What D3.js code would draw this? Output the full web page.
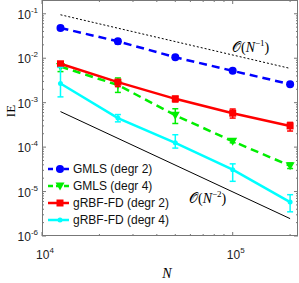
<!DOCTYPE html>
<html>
<head>
<meta charset="utf-8">
<script src="https://cdn.jsdelivr.net/npm/d3@7"></script>
<style>
  body { margin: 0; background: white; }
  text { font-family: "Liberation Sans", Arial, sans-serif; }
</style>
</head>
<body>
<div id="chart"></div>
<script>
const margin = { top: 0, bot: 47, left: 42, right: 1 }
const sizing = { width: 299, height: 283 }

// data
const N = [12500, 25000, 50000, 100000, 200000]
const gmls2 = [0.048, 0.024, 0.0105, 0.0052, 0.0026]
const gmls2Lo = [0.044, 0.021, 0.0098, 0.0048, 0.0024]
const gmls2Hi = [0.052, 0.027, 0.0112, 0.0056, 0.0028]
const gmls4 = [0.0065, 0.0025, 0.00052, 0.000135, 0.000038]
const gmls4Lo = [0.005, 0.0017, 0.00034, 0.000125, 0.000033]
const gmls4Hi = [0.0078, 0.0036, 0.00073, 0.000148, 0.000044]
const rbf2 = [0.0075, 0.0029, 0.00122, 0.00058, 0.0003]
const rbf2Lo = [0.0065, 0.0023, 0.00104, 0.00045, 0.00023]
const rbf2Hi = [0.0083, 0.0033, 0.00139, 0.00072, 0.00036]
const rbf4 = [0.0027, 0.00045, 0.000125, 0.000031, 0.0000058]
const rbf4Lo = [0.00135, 0.00037, 0.000095, 0.000017, 0.0000035]
const rbf4Hi = [0.0062, 0.00054, 0.00019, 0.000042, 0.0000085]
const refN = [12500, 200000]
const ref1 = [0.095, 0.0059]
const ref2 = [0.00063, 0.00000246]
const yTickExp = [-1, -2, -3, -4, -5, -6]
const xTickExp = [4, 5]
const seriesNames = ["GMLS (degr 2)", "GMLS (degr 4)", "gRBF-FD (degr 2)", "gRBF-FD (degr 4)"]

const series = [
  { name: seriesNames[0], v: gmls2, lo: gmls2Lo, hi: gmls2Hi, color: "#0000ff", dash: "8,5", marker: "circle" },
  { name: seriesNames[1], v: gmls4, lo: gmls4Lo, hi: gmls4Hi, color: "#00ee00", dash: "8,5", marker: "tri" },
  { name: seriesNames[2], v: rbf2, lo: rbf2Lo, hi: rbf2Hi, color: "#ff0000", dash: null, marker: "square" },
  { name: seriesNames[3], v: rbf4, lo: rbf4Lo, hi: rbf4Hi, color: "#00ffff", dash: null, marker: "dot" }
]

const svg = d3.select("#chart").append("svg")
  .attr("width", sizing.width)
  .attr("height", sizing.height)

svg.append("rect").attr("width", "100%").attr("height", "100%").attr("fill", "white")

const w = sizing.width - margin.left - margin.right
const h = sizing.height - margin.top - margin.bot

const x = d3.scaleLog().domain([1e4, 2.2e5]).range([margin.left, margin.left + w])
const y = d3.scaleLog().domain([1e-6, Math.pow(10, -0.69)]).range([margin.top + h, margin.top])

const axisColor = "#777"

// ticks (inward, all sides)
const ticks = svg.append("g")
const xMinor = []
for (let e = 4; e <= 5; e++) for (let m = 2; m <= 9; m++) { const v = m * Math.pow(10, e); if (v <= 2.2e5) xMinor.push(v) }
const yMinor = []
for (let e = -6; e <= -1; e++) for (let m = 2; m <= 9; m++) { const v = m * Math.pow(10, e); if (v <= Math.pow(10, -0.69)) yMinor.push(v) }

xMinor.forEach(v => {
  ticks.append("line").attr("x1", x(v)).attr("x2", x(v)).attr("y1", y.range()[0]).attr("y2", y.range()[0] - 2).attr("stroke", axisColor)
  ticks.append("line").attr("x1", x(v)).attr("x2", x(v)).attr("y1", y.range()[1]).attr("y2", y.range()[1] + 2).attr("stroke", axisColor)
})
xTickExp.forEach(e => {
  const v = Math.pow(10, e)
  ticks.append("line").attr("x1", x(v)).attr("x2", x(v)).attr("y1", y.range()[0]).attr("y2", y.range()[0] - 4).attr("stroke", axisColor)
  ticks.append("line").attr("x1", x(v)).attr("x2", x(v)).attr("y1", y.range()[1]).attr("y2", y.range()[1] + 4).attr("stroke", axisColor)
})
yMinor.forEach(v => {
  ticks.append("line").attr("y1", y(v)).attr("y2", y(v)).attr("x1", x.range()[0]).attr("x2", x.range()[0] + 2).attr("stroke", axisColor)
  ticks.append("line").attr("y1", y(v)).attr("y2", y(v)).attr("x1", x.range()[1]).attr("x2", x.range()[1] - 2).attr("stroke", axisColor)
})
yTickExp.forEach(e => {
  const v = Math.pow(10, e)
  ticks.append("line").attr("y1", y(v)).attr("y2", y(v)).attr("x1", x.range()[0]).attr("x2", x.range()[0] + 4).attr("stroke", axisColor)
  ticks.append("line").attr("y1", y(v)).attr("y2", y(v)).attr("x1", x.range()[1]).attr("x2", x.range()[1] - 4).attr("stroke", axisColor)
})

svg.append("rect")
  .attr("x", x.range()[0] + 0.5).attr("y", y.range()[1] + 0.5)
  .attr("width", w - 1).attr("height", h - 1)
  .attr("fill", "none").attr("stroke", axisColor)

// tick labels
yTickExp.forEach(e => {
  const t = svg.append("text").attr("x", 38).attr("y", y(Math.pow(10, e)) + 5)
    .attr("text-anchor", "end").attr("font-size", 12).attr("fill", "#222")
  t.append("tspan").text("10")
  t.append("tspan").text(e).attr("font-size", 8).attr("dy", -6)
})
xTickExp.forEach(e => {
  const t = svg.append("text").attr("x", x(Math.pow(10, e)) + 3).attr("y", 259)
    .attr("text-anchor", "middle").attr("font-size", 12).attr("fill", "#222")
  t.append("tspan").text("10")
  t.append("tspan").text(e).attr("font-size", 8).attr("dy", -6)
})

svg.append("text").text("IE")
  .attr("transform", "translate(15,111) rotate(-90)")
  .attr("text-anchor", "middle").attr("font-size", 13)
  .style("font-family", "'Liberation Serif', 'Times New Roman', serif")

svg.append("text").text("N")
  .attr("x", 167).attr("y", 278)
  .attr("text-anchor", "middle").attr("font-size", 14).attr("font-style", "italic")
  .style("font-family", "'Liberation Serif', 'Times New Roman', serif")

// reference slopes
const line = d3.line().x(d => x(d[0])).y(d => y(d[1]))
svg.append("path").attr("d", line(d3.zip(refN, ref1)))
  .attr("stroke", "black").attr("fill", "none").attr("stroke-width", 1).attr("stroke-dasharray", "2,2")
svg.append("path").attr("d", line(d3.zip(refN, ref2)))
  .attr("stroke", "black").attr("fill", "none").attr("stroke-width", 1)

function orderLabel(px, py, e) {
  const t = svg.append("text").attr("x", px).attr("y", py).attr("font-size", 14)
    .style("font-family", "'Liberation Serif', 'Times New Roman', serif")
  t.append("tspan").text("\uD835\uDCAA").attr("font-style", "normal")
  t.append("tspan").text("(")
  t.append("tspan").text("N").attr("font-style", "italic")
  t.append("tspan").text(e).attr("font-size", 9).attr("dy", -6)
  t.append("tspan").text(")").attr("dy", 6)
}
orderLabel(232, 52, "\u22121")
orderLabel(189, 203, "\u22122")

// series
function drawMarker(g, type, cx, cy, color) {
  if (type === "circle") g.append("circle").attr("cx", cx).attr("cy", cy).attr("r", 4).attr("fill", color)
  if (type === "dot") g.append("circle").attr("cx", cx).attr("cy", cy).attr("r", 2.5).attr("fill", color)
  if (type === "square") g.append("rect").attr("x", cx - 3.5).attr("y", cy - 3.5).attr("width", 7).attr("height", 7).attr("fill", color)
  if (type === "tri") g.append("path").attr("d", `M${cx - 4.5},${cy - 3.5}L${cx + 4.5},${cy - 3.5}L${cx},${cy + 4.5}Z`).attr("fill", color)
}

series.forEach(s => {
  const g = svg.append("g")
  // error bars
  N.forEach((n, i) => {
    const cx = x(n)
    g.append("line").attr("x1", cx).attr("x2", cx).attr("y1", y(s.lo[i])).attr("y2", y(s.hi[i]))
      .attr("stroke", s.color).attr("stroke-width", 1.5)
    ;[s.lo[i], s.hi[i]].forEach(v => {
      g.append("line").attr("x1", cx - 3).attr("x2", cx + 3).attr("y1", y(v)).attr("y2", y(v))
        .attr("stroke", s.color).attr("stroke-width", 1.5)
    })
  })
  g.append("path").attr("d", line(d3.zip(N, s.v)))
    .attr("fill", "none").attr("stroke", s.color).attr("stroke-width", 2.5)
    .attr("stroke-dasharray", s.dash)
  N.forEach((n, i) => drawMarker(g, s.marker, x(n), y(s.v[i]), s.color))
})

// legend
const legend = svg.append("g")
series.forEach((s, i) => {
  const ly = 169 + i * 17
  legend.append("line").attr("x1", 48).attr("x2", 69).attr("y1", ly).attr("y2", ly)
    .attr("stroke", s.color).attr("stroke-width", 2.5).attr("stroke-dasharray", s.dash ? "5,3" : null)
  drawMarker(legend, s.marker, 60, ly, s.color)
  legend.append("text").text(s.name).attr("x", 73).attr("y", ly + 4).attr("font-size", 12).attr("fill", "#111")
})
</script>
</body>
</html>
